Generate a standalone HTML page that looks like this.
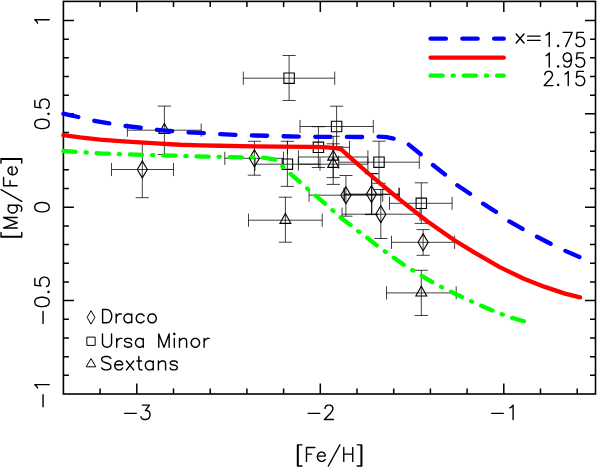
<!DOCTYPE html>
<html><head><meta charset="utf-8"><title>[Mg/Fe] vs [Fe/H]</title>
<style>
html,body{margin:0;padding:0;background:#fff;font-family:"Liberation Sans",sans-serif;}
svg{display:block}
</style></head><body>
<svg width="597" height="467" viewBox="0 0 597 467">
<rect width="597" height="467" fill="#fff"/>
<g fill="none" stroke="#000" stroke-width="1.6">
<rect x="63.4" y="1.4" width="532.1" height="392.6"/>
<path d="M100.1 394V388.5M100.1 1.4V6.9M136.8 394V383.5M136.8 1.4V11.9M173.5 394V388.5M173.5 1.4V6.9M210.2 394V388.5M210.2 1.4V6.9M246.9 394V388.5M246.9 1.4V6.9M283.6 394V388.5M283.6 1.4V6.9M320.3 394V383.5M320.3 1.4V11.9M357 394V388.5M357 1.4V6.9M393.7 394V388.5M393.7 1.4V6.9M430.4 394V388.5M430.4 1.4V6.9M467.1 394V388.5M467.1 1.4V6.9M503.8 394V383.5M503.8 1.4V11.9M540.5 394V388.5M540.5 1.4V6.9M577.2 394V388.5M577.2 1.4V6.9M63.4 375.33H68.9M595.5 375.33H590M63.4 356.65H68.9M595.5 356.65H590M63.4 337.98H68.9M595.5 337.98H590M63.4 319.3H68.9M595.5 319.3H590M63.4 300.62H73.9M595.5 300.62H585M63.4 281.94H68.9M595.5 281.94H590M63.4 263.26H68.9M595.5 263.26H590M63.4 244.59H68.9M595.5 244.59H590M63.4 225.91H68.9M595.5 225.91H590M63.4 207.23H73.9M595.5 207.23H585M63.4 188.55H68.9M595.5 188.55H590M63.4 169.87H68.9M595.5 169.87H590M63.4 151.2H68.9M595.5 151.2H590M63.4 132.52H68.9M595.5 132.52H590M63.4 113.84H73.9M595.5 113.84H585M63.4 95.16H68.9M595.5 95.16H590M63.4 76.48H68.9M595.5 76.48H590M63.4 57.81H68.9M595.5 57.81H590M63.4 39.13H68.9M595.5 39.13H590M63.4 20.45H73.9M595.5 20.45H585" stroke-width="1.5"/>
</g>
<g fill="none" stroke="#000" stroke-width="0.75">
<path d="M243.3 78.2H334.7M243.3 71.6V84.8M334.7 71.6V84.8M289.1 55.5V100.5M282.5 55.5H295.7M282.5 100.5H295.7M300 126.5H373.3M300 119.9V133.1M373.3 119.9V133.1M336.6 106.2V146.8M330 106.2H343.2M330 146.8H343.2M287.5 147.3H349.5M287.5 140.7V153.9M349.5 140.7V153.9M318.4 126.7V167.5M311.8 126.7H325M311.8 167.5H325M255 164.2H320M255 157.6V170.8M320 157.6V170.8M287.4 141.3V186.4M280.8 141.3H294M280.8 186.4H294M338.7 162.2H419.3M338.7 155.6V168.8M419.3 155.6V168.8M379 141.2V183.3M372.4 141.2H385.6M372.4 183.3H385.6M389.5 203.3H452.1M389.5 196.7V209.9M452.1 196.7V209.9M421.3 182.8V223.4M414.7 182.8H427.9M414.7 223.4H427.9M111.5 169.5H173.5M111.5 162.9V176.1M173.5 162.9V176.1M142.3 142.5V197.7M135.7 142.5H148.9M135.7 197.7H148.9M224.8 158.3H283.5M224.8 151.7V164.9M283.5 151.7V164.9M254.4 141.3V175.2M247.8 141.3H261M247.8 175.2H261M309.1 195.2H382.7M309.1 188.6V201.8M382.7 188.6V201.8M345.9 175.5V216.2M339.3 175.5H352.5M339.3 216.2H352.5M344 194.1H398.9M344 187.5V200.7M398.9 187.5V200.7M371.5 173.5V214.3M364.9 173.5H378.1M364.9 214.3H378.1M342 214.2H420M342 207.6V220.8M420 207.6V220.8M380.8 189.5V238.5M374.2 189.5H387.4M374.2 238.5H387.4M391.5 242.3H454.6M391.5 235.7V248.9M454.6 235.7V248.9M423.1 229.6V255.3M416.5 229.6H429.7M416.5 255.3H429.7M127.4 130.2H201.2M127.4 123.6V136.8M201.2 123.6V136.8M164.4 106.1V154.5M157.8 106.1H171M157.8 154.5H171M298.4 157H367.9M298.4 150.4V163.6M367.9 150.4V163.6M333.2 136.3V177.6M326.6 136.3H339.8M326.6 177.6H339.8M298.4 164.2H367.9M298.4 157.6V170.8M367.9 157.6V170.8M333.2 143.8V184.4M326.6 143.8H339.8M326.6 184.4H339.8M248.5 220.2H322.2M248.5 213.6V226.8M322.2 213.6V226.8M285.4 197.2V242.2M278.8 197.2H292M278.8 242.2H292M386.5 292.9H456.2M386.5 286.3V299.5M456.2 286.3V299.5M421.3 270.3V315.5M414.7 270.3H427.9M414.7 315.5H427.9"/>
<path d="M344.4 194.6H399.3M344.4 188V201.2M399.3 188V201.2M371.85 173.8V214.6M365.25 173.8H378.45M365.25 214.6H378.45" stroke-width="0.8"/>
</g>
<path d="M164.4 123.5L169.85 133.35L158.95 133.35ZM333.2 150.3L338.65 160.15L327.75 160.15ZM333.2 157.5L338.65 167.35L327.75 167.35ZM285.4 213.5L290.85 223.35L279.95 223.35ZM421.3 286.2L426.75 296.05L415.85 296.05Z" fill="none" stroke="#000" stroke-width="1.1" stroke-linejoin="miter"/>
<g fill="none" stroke="#000" stroke-width="1.1" stroke-linejoin="miter">
<path d="M283.9 73H294.3V83.4H283.9ZM331.4 121.3H341.8V131.7H331.4ZM313.2 142.1H323.6V152.5H313.2ZM282.2 159H292.6V169.4H282.2ZM373.8 157H384.2V167.4H373.8ZM416.1 198.1H426.5V208.5H416.1Z"/>
<path d="M142.3 161.1L147.35 169.5L142.3 177.9L137.25 169.5ZM254.4 149.9L259.45 158.3L254.4 166.7L249.35 158.3ZM345.9 186.8L350.95 195.2L345.9 203.6L340.85 195.2ZM371.5 185.7L376.55 194.1L371.5 202.5L366.45 194.1ZM380.8 205.8L385.85 214.2L380.8 222.6L375.75 214.2ZM423.1 233.9L428.15 242.3L423.1 250.7L418.05 242.3Z"/>
<path d="M91 310.7L94.9 317.4L91 324.1L87.1 317.4ZM86.85 337.1H95.15V345.4H86.85ZM91 358.6L95.8 366.8L86.2 366.8Z" stroke-width="1"/>
</g>
<g fill="none" stroke-width="4.3" stroke-linecap="round" stroke-linejoin="round">
<path d="M63.4 151L100 153.35L143 154.95L177 155.7L186 156.2L210 156.6L228 157L243 157.3L255 157.3L261.2 157.5L268 158.35L275.4 159.7L277.8 161.5L283.1 167L290 173.5L300.3 182.4L307.8 189L315 195.1L325.5 204.1L333 210.7L340 217.3L351.8 225.9L358.5 231.6L366.2 237L377.6 246.1L385.4 251.8L393.8 257.8L404.9 265.6L413.3 270.6L421.7 275.9L434.1 283.2L441.8 287.2L449.2 290.9L462.7 297.4L472.1 301.6L480.7 305.6L493.3 310.9L502 314.3L511.6 317.7L524.8 321.5" stroke="#00ff00" stroke-dasharray="12.2 9.95 1.2 9.95"/>
<path d="M63.4 113.7L72 115.6L80 117.4L93.2 120.6L110.3 123.6L124.7 125.9L142 127.9L156.1 129.7L173.6 131.3L187 132.3L205.7 133.2L218.6 134.1L237.3 134.9L250.4 135.4L269 135.8L282 136.2L300 136.7L330 136.9L362.9 137L378 136.6L386.5 137.1L394.6 138.7L401 140.6L408.3 144.2L420.4 154L432.5 164.7L445.6 174.9L457.2 185.2L470.4 194L482.8 203.5L496.3 212L509.1 221.3L523.2 229.3L536.9 236.7L551 243.9L565 250.7L580.5 257.4" stroke="#0000ff" stroke-dasharray="15.3 16.38"/>
<path d="M63.4 135.2L80 137.4L100 139.6L120 141.1L140 142.45L160 143.7L180 144.75L200 145.35L220 145.75L240 146.2L280 146.7L310 146.9L323.5 147.2L333 147.9L338 148.5L341.5 149.6L353.4 160.3L366.8 172L380.2 183.4L393.6 194.5L401.7 201.1L427.2 221.2L454 240L474.6 252.6L499.3 266.9L523.9 278.8L544.8 286.9L565 293.6L580 297.4" stroke="#ff0000"/>
<path d="M430.5 38.7H503.8" stroke="#0000ff" stroke-dasharray="15.4 16.4"/>
<path d="M430.5 57.7H503.8" stroke="#ff0000"/>
<path d="M430.5 75.7H503.8" stroke="#00ff00" stroke-dasharray="12.2 9.95 1.2 9.95"/>
</g>
<path d="M124.65 413.33L136.35 413.33M142.2 405.12L149.35 405.12L145.45 410.6L147.4 410.6L148.7 411.28L149.35 411.96L150 414.02L150 415.39L149.35 417.44L148.05 418.81L146.1 419.5L144.15 419.5L142.2 418.81L141.55 418.13L140.9 416.76M308.15 413.33L319.85 413.33M325.05 408.54L325.05 407.86L325.7 406.49L326.35 405.8L327.65 405.12L330.25 405.12L331.55 405.8L332.2 406.49L332.85 407.86L332.85 409.23L332.2 410.6L330.9 412.65L324.4 419.5L333.5 419.5M491.65 413.33L503.35 413.33M509.85 407.86L511.15 407.17L513.1 405.12L513.1 419.5M37.55 23.13L36.87 21.79L34.81 19.78L49.2 19.78M34.81 124.56L35.5 126.57L37.55 127.91L40.98 128.58L43.04 128.58L46.46 127.91L48.52 126.57L49.2 124.56L49.2 123.22L48.52 121.21L46.46 119.87L43.04 119.2L40.98 119.2L37.55 119.87L35.5 121.21L34.81 123.22L34.81 124.56M47.83 113.84L48.52 114.51L49.2 113.84L48.52 113.17L47.83 113.84M34.81 100.44L34.81 107.14L40.98 107.81L40.3 107.14L39.61 105.13L39.61 103.12L40.3 101.11L41.67 99.77L43.72 99.1L45.09 99.1L47.15 99.77L48.52 101.11L49.2 103.12L49.2 105.13L48.52 107.14L47.83 107.81L46.46 108.48M34.81 207.9L35.5 209.91L37.55 211.25L40.98 211.92L43.04 211.92L46.46 211.25L48.52 209.91L49.2 207.9L49.2 206.56L48.52 204.55L46.46 203.21L43.04 202.54L40.98 202.54L37.55 203.21L35.5 204.55L34.81 206.56L34.81 207.9M43.04 323.4L43.04 311.34M34.81 302.63L35.5 304.64L37.55 305.98L40.98 306.65L43.04 306.65L46.46 305.98L48.52 304.64L49.2 302.63L49.2 301.29L48.52 299.28L46.46 297.94L43.04 297.27L40.98 297.27L37.55 297.94L35.5 299.28L34.81 301.29L34.81 302.63M47.83 291.91L48.52 292.58L49.2 291.91L48.52 291.24L47.83 291.91M34.81 278.51L34.81 285.21L40.98 285.88L40.3 285.21L39.61 283.2L39.61 281.19L40.3 279.18L41.67 277.84L43.72 277.17L45.09 277.17L47.15 277.84L48.52 279.18L49.2 281.19L49.2 283.2L48.52 285.21L47.83 285.88L46.46 286.55M43.04 406.74L43.04 394.68M37.55 387.98L36.87 386.64L34.81 384.63L49.2 384.63M297.5 444.85L297.5 466.03M298.14 444.85L298.14 466.03M297.5 444.85L302 444.85M297.5 466.03L302 466.03M306.5 447.5L306.5 461.4M306.5 447.5L314.85 447.5M306.5 454.12L311.63 454.12M317.42 456.1L325.13 456.1L325.13 454.78L324.49 453.46L323.84 452.79L322.56 452.13L320.63 452.13L319.35 452.79L318.06 454.12L317.42 456.1L317.42 457.43L318.06 459.41L319.35 460.74L320.63 461.4L322.56 461.4L323.84 460.74L325.13 459.41M339.9 444.85L328.34 466.03M343.76 447.5L343.76 461.4M352.75 447.5L352.75 461.4M343.76 454.12L352.75 454.12M361.11 444.85L361.11 466.03M361.75 444.85L361.75 466.03M357.25 444.85L361.75 444.85M357.25 466.03L361.75 466.03M1 237.01L21.74 237.01M1 236.36L21.74 236.36M1 237.01L1 232.47M21.74 237.01L21.74 232.47M3.59 227.94L17.2 227.94M3.59 227.94L17.2 222.75M3.59 217.57L17.2 222.75M3.59 217.57L17.2 217.57M8.13 205.26L18.5 205.26L20.44 205.9L21.09 206.55L21.74 207.85L21.74 209.79L21.09 211.09M10.07 205.26L8.78 206.55L8.13 207.85L8.13 209.79L8.78 211.09L10.07 212.38L12.02 213.03L13.31 213.03L15.26 212.38L16.55 211.09L17.2 209.79L17.2 207.85L16.55 206.55L15.26 205.26M1 189.7L21.74 201.37M3.59 185.82L17.2 185.82M3.59 185.82L3.59 177.39M10.07 185.82L10.07 180.63M12.02 174.8L12.02 167.02L10.72 167.02L9.42 167.67L8.78 168.32L8.13 169.62L8.13 171.56L8.78 172.86L10.07 174.15L12.02 174.8L13.31 174.8L15.26 174.15L16.55 172.86L17.2 171.56L17.2 169.62L16.55 168.32L15.26 167.02M1 159.25L21.74 159.25M1 158.6L21.74 158.6M1 163.14L1 158.6M21.74 163.14L21.74 158.6M102.6 309.57L102.6 322.8M102.6 309.57L107.13 309.57L109.07 310.2L110.36 311.46L111.01 312.72L111.66 314.61L111.66 317.76L111.01 319.65L110.36 320.91L109.07 322.17L107.13 322.8L102.6 322.8M116.19 313.98L116.19 322.8M116.19 317.76L116.83 315.87L118.13 314.61L119.42 313.98L121.36 313.98M131.72 313.98L131.72 322.8M131.72 315.87L130.42 314.61L129.13 313.98L127.19 313.98L125.89 314.61L124.6 315.87L123.95 317.76L123.95 319.02L124.6 320.91L125.89 322.17L127.19 322.8L129.13 322.8L130.42 322.17L131.72 320.91M144.01 315.87L142.71 314.61L141.42 313.98L139.48 313.98L138.19 314.61L136.89 315.87L136.24 317.76L136.24 319.02L136.89 320.91L138.19 322.17L139.48 322.8L141.42 322.8L142.71 322.17L144.01 320.91M151.12 313.98L149.83 314.61L148.54 315.87L147.89 317.76L147.89 319.02L148.54 320.91L149.83 322.17L151.12 322.8L153.07 322.8L154.36 322.17L155.65 320.91L156.3 319.02L156.3 317.76L155.65 315.87L154.36 314.61L153.07 313.98L151.12 313.98M102.5 333.97L102.5 343.42L103.15 345.31L104.44 346.57L106.38 347.2L107.68 347.2L109.62 346.57L110.91 345.31L111.56 343.42L111.56 333.97M116.73 338.38L116.73 347.2M116.73 342.16L117.38 340.27L118.68 339.01L119.97 338.38L121.91 338.38M131.62 340.27L130.97 339.01L129.03 338.38L127.09 338.38L125.15 339.01L124.5 340.27L125.15 341.53L126.44 342.16L129.67 342.79L130.97 343.42L131.62 344.68L131.62 345.31L130.97 346.57L129.03 347.2L127.09 347.2L125.15 346.57L124.5 345.31M143.26 338.38L143.26 347.2M143.26 340.27L141.97 339.01L140.67 338.38L138.73 338.38L137.44 339.01L136.14 340.27L135.5 342.16L135.5 343.42L136.14 345.31L137.44 346.57L138.73 347.2L140.67 347.2L141.97 346.57L143.26 345.31M158.79 333.97L158.79 347.2M158.79 333.97L163.97 347.2M169.14 333.97L163.97 347.2M169.14 333.97L169.14 347.2M173.67 333.97L174.32 334.6L174.96 333.97L174.32 333.34L173.67 333.97M174.32 338.38L174.32 347.2M179.49 338.38L179.49 347.2M179.49 340.9L181.43 339.01L182.73 338.38L184.67 338.38L185.96 339.01L186.61 340.9L186.61 347.2M194.37 338.38L193.08 339.01L191.79 340.27L191.14 342.16L191.14 343.42L191.79 345.31L193.08 346.57L194.37 347.2L196.31 347.2L197.61 346.57L198.9 345.31L199.55 343.42L199.55 342.16L198.9 340.27L197.61 339.01L196.31 338.38L194.37 338.38M204.08 338.38L204.08 347.2M204.08 342.16L204.73 340.27L206.02 339.01L207.31 338.38L209.25 338.38M110.83 358.38L109.52 357.1L107.57 356.46L104.96 356.46L103 357.1L101.7 358.38L101.7 359.66L102.35 360.94L103 361.58L104.31 362.22L108.22 363.5L109.52 364.14L110.18 364.78L110.83 366.06L110.83 367.98L109.52 369.26L107.57 369.9L104.96 369.9L103 369.26L101.7 367.98M114.74 364.78L122.56 364.78L122.56 363.5L121.91 362.22L121.26 361.58L119.96 360.94L118 360.94L116.7 361.58L115.39 362.86L114.74 364.78L114.74 366.06L115.39 367.98L116.7 369.26L118 369.9L119.96 369.9L121.26 369.26L122.56 367.98M126.48 360.94L133.65 369.9M133.65 360.94L126.48 369.9M138.86 356.46L138.86 367.34L139.52 369.26L140.82 369.9L142.12 369.9M136.91 360.94L141.47 360.94M153.21 360.94L153.21 369.9M153.21 362.86L151.9 361.58L150.6 360.94L148.64 360.94L147.34 361.58L146.04 362.86L145.38 364.78L145.38 366.06L146.04 367.98L147.34 369.26L148.64 369.9L150.6 369.9L151.9 369.26L153.21 367.98M158.42 360.94L158.42 369.9M158.42 363.5L160.38 361.58L161.68 360.94L163.64 360.94L164.94 361.58L165.6 363.5L165.6 369.9M177.33 362.86L176.68 361.58L174.72 360.94L172.77 360.94L170.81 361.58L170.16 362.86L170.81 364.14L172.12 364.78L175.38 365.42L176.68 366.06L177.33 367.34L177.33 367.98L176.68 369.26L174.72 369.9L172.77 369.9L170.81 369.26L170.16 367.98" fill="none" stroke="#000" stroke-width="1.4" stroke-linecap="round" stroke-linejoin="round"/>
<path d="M546.1 35.12L547.36 34.45L549.26 32.42L549.26 46.6M558.12 45.25L557.49 45.93L558.12 46.6L558.76 45.93L558.12 45.25M572.05 32.42L565.72 46.6M563.19 32.42L572.05 32.42M583.44 32.42L577.12 32.42L576.48 38.5L577.12 37.83L579.01 37.15L580.91 37.15L582.81 37.83L584.08 39.17L584.71 41.2L584.71 42.55L584.08 44.58L582.81 45.93L580.91 46.6L579.01 46.6L577.12 45.93L576.48 45.25L575.85 43.9M546.1 55.62L547.36 54.95L549.26 52.92L549.26 67.1M558.12 65.75L557.49 66.42L558.12 67.1L558.76 66.42L558.12 65.75M571.42 57.65L570.78 59.67L569.52 61.02L567.62 61.7L566.99 61.7L565.09 61.02L563.82 59.67L563.19 57.65L563.19 56.97L563.82 54.95L565.09 53.6L566.99 52.92L567.62 52.92L569.52 53.6L570.78 54.95L571.42 57.65L571.42 61.02L570.78 64.4L569.52 66.42L567.62 67.1L566.35 67.1L564.45 66.42L563.82 65.07M583.44 52.92L577.12 52.92L576.48 59L577.12 58.32L579.01 57.65L580.91 57.65L582.81 58.32L584.08 59.67L584.71 61.7L584.71 63.05L584.08 65.07L582.81 66.42L580.91 67.1L579.01 67.1L577.12 66.42L576.48 65.75L575.85 64.4M544.83 74.8L544.83 74.12L545.46 72.77L546.1 72.1L547.36 71.42L549.9 71.42L551.16 72.1L551.79 72.77L552.43 74.12L552.43 75.47L551.79 76.82L550.53 78.85L544.2 85.6L553.06 85.6M558.12 84.25L557.49 84.92L558.12 85.6L558.76 84.92L558.12 84.25M565.09 74.12L566.35 73.45L568.25 71.42L568.25 85.6M583.44 71.42L577.12 71.42L576.48 77.5L577.12 76.82L579.01 76.15L580.91 76.15L582.81 76.82L584.08 78.17L584.71 80.2L584.71 81.55L584.08 83.57L582.81 84.92L580.91 85.6L579.01 85.6L577.12 84.92L576.48 84.25L575.85 82.9M516.2 34L524 43M524 34L516.2 43M527.6 36.1L540.1 36.1M527.6 40.4L540.1 40.4" fill="none" stroke="#000" stroke-width="1.4" stroke-linecap="round" stroke-linejoin="round"/>
</svg>
</body></html>
